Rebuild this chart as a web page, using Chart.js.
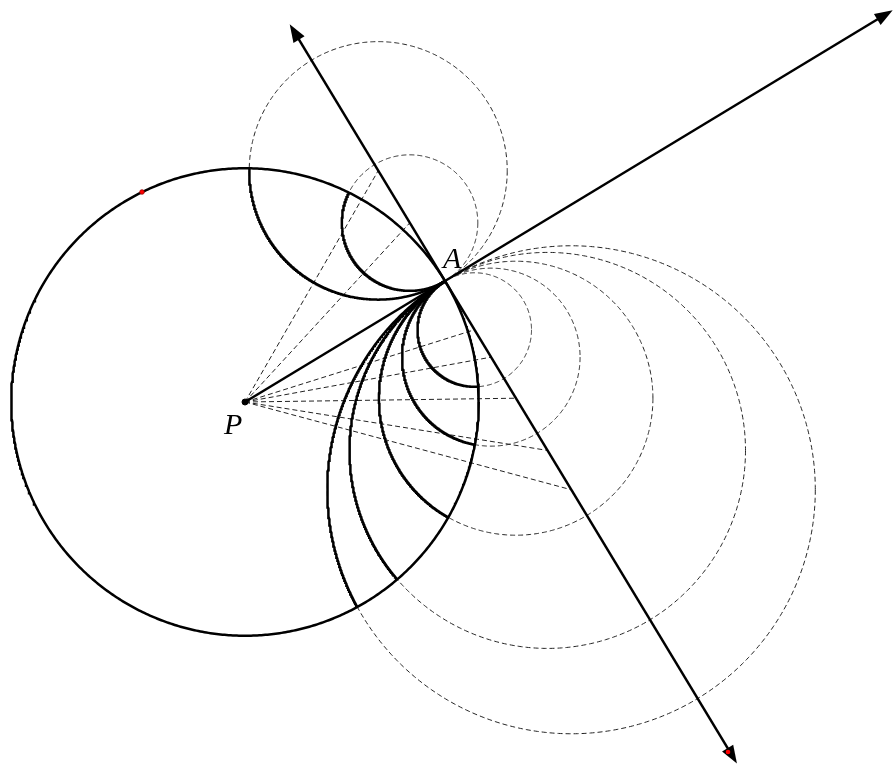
<!DOCTYPE html>
<html>
<head>
<meta charset="utf-8">
<script src="https://cdn.jsdelivr.net/npm/chart.js@4.4.1/dist/chart.umd.min.js"></script>
<style>
  body{margin:0;background:#fff;}
  #wrap{width:893px;height:765px;}
</style>
</head>
<body>
<div id="wrap"><canvas id="grafico" width="893" height="765"></canvas></div>
<script>
// figure data (pixel-like units, y grows downward)
const pointP = [245, 402];
const pointA = [445, 281];
const upperRadii = [129, 68];              // circles centred on the tangent, above A
const lowerRadii = [57, 89, 137, 198, 244]; // circles centred on the tangent, below A
const tangentEnds = [-300, 564];            // along the tangent, measured from A
const rayLength = 757;                      // from P through A
const redDots = [[142, 192], [728, 752]];
const labelA = 'A';
const labelP = 'P';

// geometry derived from the data
var R = Math.hypot(pointA[0] - pointP[0], pointA[1] - pointP[1]);
var ray = [(pointA[0] - pointP[0]) / R, (pointA[1] - pointP[1]) / R];
var tang = [-ray[1], ray[0]];

function onTangent(t){ return {x: pointA[0] + t * tang[0], y: pointA[1] + t * tang[1]}; }

var signed = upperRadii.map(function(r){ return -r; }).concat(lowerRadii);
var circles = signed.map(function(t){
    var c = onTangent(t);
    return {c: c, r: Math.abs(t)};
});

function circlePts(cx, cy, r){
    var pts = [];
    for (var i = 0; i <= 720; i++){
        var a = i / 720 * Math.PI * 2;
        pts.push({x: cx + r * Math.cos(a), y: cy + r * Math.sin(a)});
    }
    return pts;
}

// part of a circle lying inside the big circle, gaps as null
function insideArc(c, r){
    var a0 = Math.atan2(pointA[1] - c.y, pointA[0] - c.x);
    var pts = [];
    for (var i = 0; i <= 1440; i++){
        var a = a0 + i / 1440 * Math.PI * 2;
        var x = c.x + r * Math.cos(a), y = c.y + r * Math.sin(a);
        if (Math.hypot(x - pointP[0], y - pointP[1]) <= R + 0.01) pts.push({x: x, y: y});
        else pts.push({x: x, y: null});
    }
    return pts;
}

var DASH = [5, 3];
var dashColor = '#222';
var datasets = [];

// order: higher numbers are drawn first (underneath)
circles.forEach(function(k){
    datasets.push({order: 5, data: circlePts(k.c.x, k.c.y, k.r), borderColor: dashColor, borderWidth: 1, borderDash: DASH});
    datasets.push({order: 5, data: [{x: pointP[0], y: pointP[1]}, {x: k.c.x, y: k.c.y}], borderColor: dashColor, borderWidth: 1, borderDash: DASH});
});
circles.forEach(function(k){
    datasets.push({order: 3, data: insideArc(k.c, k.r), borderColor: '#000', borderWidth: 2.5});
});
datasets.push({order: 3, data: circlePts(pointP[0], pointP[1], R), borderColor: '#000', borderWidth: 2.5});

// ray P -> through A, tangent line through A (ends trimmed a little under the arrowheads)
var rayTip = {x: pointP[0] + rayLength * ray[0], y: pointP[1] + rayLength * ray[1]};
var rayEnd = {x: pointP[0] + (rayLength - 8) * ray[0], y: pointP[1] + (rayLength - 8) * ray[1]};
datasets.push({order: 2, data: [{x: pointP[0], y: pointP[1]}, rayEnd], borderColor: '#000', borderWidth: 2.5});
var tanTip0 = onTangent(tangentEnds[0]), tanTip1 = onTangent(tangentEnds[1]);
datasets.push({order: 2, data: [onTangent(tangentEnds[0] + 8), onTangent(tangentEnds[1] - 8)], borderColor: '#000', borderWidth: 2.5});

// dots
datasets.push({order: 1, data: [{x: pointP[0], y: pointP[1]}], showLine: false, pointRadius: 3, backgroundColor: '#000', borderColor: '#000'});
datasets.push({order: 0, data: redDots.map(function(d){ return {x: d[0], y: d[1]}; }), showLine: false, pointRadius: 2.3, backgroundColor: '#f00', borderColor: '#900', borderWidth: 0.8});

datasets.forEach(function(d){
    if (d.showLine === undefined) d.showLine = true;
    if (d.pointRadius === undefined) d.pointRadius = 0;
    d.pointHoverRadius = 0;
    d.fill = false;
    d.tension = 0;
});

var arrows = [
    {tip: rayTip, dir: ray},
    {tip: tanTip0, dir: [-tang[0], -tang[1]]},
    {tip: tanTip1, dir: tang}
];

var extras = {
    id: 'extras',
    afterDatasetsDraw: function(chart){
        var ctx = chart.ctx, sx = chart.scales.x, sy = chart.scales.y;
        ctx.save();
        ctx.fillStyle = '#000';
        arrows.forEach(function(a){
            var tx = sx.getPixelForValue(a.tip.x), ty = sy.getPixelForValue(a.tip.y);
            var L = 18, W = 6.5;
            var bx = tx - L * a.dir[0], by = ty - L * a.dir[1];
            ctx.beginPath();
            ctx.moveTo(tx, ty);
            ctx.lineTo(bx - W * a.dir[1], by + W * a.dir[0]);
            ctx.lineTo(bx + W * a.dir[1], by - W * a.dir[0]);
            ctx.closePath();
            ctx.fill();
        });
        // red dot on the lower arrowhead sits on top
        ctx.fillStyle = '#f00';
        var rd = redDots[1];
        ctx.beginPath();
        ctx.arc(sx.getPixelForValue(rd[0]), sy.getPixelForValue(rd[1]), 2.3, 0, Math.PI * 2);
        ctx.fill();

        ctx.fillStyle = '#000';
        ctx.font = 'italic 30px "Liberation Serif", "DejaVu Serif", serif';
        ctx.textBaseline = 'alphabetic';
        ctx.textAlign = 'left';
        ctx.fillText(labelA, sx.getPixelForValue(pointA[0] - 2), sy.getPixelForValue(pointA[1] - 13));
        ctx.fillText(labelP, sx.getPixelForValue(pointP[0] - 21), sy.getPixelForValue(pointP[1] + 32));
        ctx.restore();
    }
};

var grafico = new Chart(document.getElementById('grafico'), {
    type: 'scatter',
    data: {datasets: datasets},
    options: {
        responsive: false,
        animation: false,
        events: [],
        layout: {padding: 0},
        scales: {
            x: {type: 'linear', min: 0, max: 893, display: false},
            y: {type: 'linear', min: 0, max: 765, reverse: true, display: false}
        },
        plugins: {
            legend: {display: false},
            tooltip: {enabled: false}
        }
    },
    plugins: [extras]
});

// the library keeps a small inset for line widths; map the axes onto that area so 1 unit = 1 px
var area = grafico.chartArea;
grafico.options.scales.x.min = area.left;
grafico.options.scales.x.max = area.right;
grafico.options.scales.y.min = area.top;
grafico.options.scales.y.max = area.bottom;
grafico.update();
</script>
</body>
</html>
